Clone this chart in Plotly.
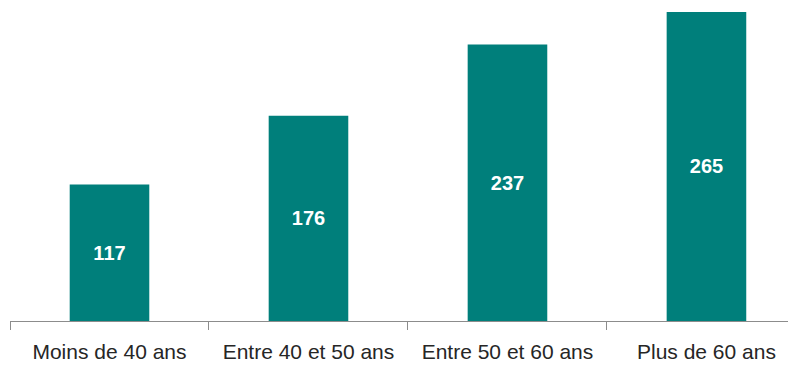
import plotly.graph_objects as go

categories = ["Moins de 40 ans", "Entre 40 et 50 ans", "Entre 50 et 60 ans", "Plus de 60 ans"]
values = [117, 176, 237, 265]

BAR_COLOR = "#007F7B"

fig = go.Figure(
    go.Bar(
        x=categories,
        y=values,
        width=0.4,
        marker=dict(color=BAR_COLOR, line=dict(width=0)),
        text=[str(v) for v in values],
        textposition="inside",
        insidetextanchor="middle",
        textangle=0,
        textfont=dict(family="Liberation Sans, Arial, sans-serif", size=20, color="white", weight="bold"),
        hoverinfo="skip",
    )
)

fig.update_layout(
    width=796,
    height=365,
    margin=dict(l=2, r=8, t=0, b=52),
    paper_bgcolor="white",
    plot_bgcolor="white",
    showlegend=False,
    font=dict(family="Liberation Sans, Arial, sans-serif", size=21, color="#262626"),
    xaxis=dict(
        type="category",
        range=[-0.5, 3.45],
        showline=True,
        linecolor="#8c8c8c",
        linewidth=1,
        ticks="outside",
        tickson="boundaries",
        ticklen=8,
        tickcolor="#8c8c8c",
        tickwidth=1,
        ticklabelstandoff=12,
        showgrid=False,
        zeroline=False,
        automargin=False,
        tickfont=dict(size=21, color="#262626"),
    ),
    yaxis=dict(
        range=[0, 268.4],
        visible=False,
        showgrid=False,
        zeroline=False,
    ),
)

fig.write_html("out.html")
